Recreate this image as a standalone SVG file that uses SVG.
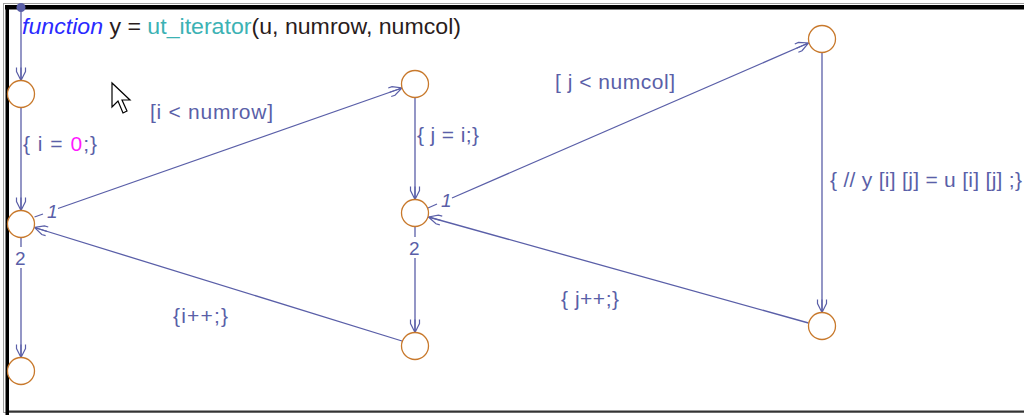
<svg xmlns="http://www.w3.org/2000/svg" width="1024" height="415" viewBox="0 0 1024 415">
<defs>
<style>
.j{fill:#fff;stroke:#c8792c;stroke-width:1.3}
.c{fill:none;stroke:#5a5fa8;stroke-width:1.3}
.a{marker-end:url(#arr)}
.t{font-family:"Liberation Sans",Arial,sans-serif;font-size:21px;fill:#5a5fa8}
.n{font-family:"Liberation Sans",Arial,sans-serif;font-size:19px;fill:#5a5fa8}
</style>
<marker id="arr" markerWidth="16" markerHeight="12" refX="13" refY="0" viewBox="-1 -6 16 12" orient="auto" markerUnits="userSpaceOnUse">
<path d="M0,-4.5 L4,-4.5 L13,0 L4,4.5 L0,4.5 M0,0 L13,0" fill="none" stroke="#5a5fa8" stroke-width="1.2"/>
</marker>
</defs>
<rect x="0" y="0" width="1024" height="415" fill="#fff"/>
<g id="frame">
<rect x="3.5" y="3.5" width="1030" height="409" fill="none" stroke="#a0a0a0" stroke-width="1"/>
<rect x="5" y="5" width="1019" height="4.5" fill="#000"/>
<rect x="5.5" y="5" width="3.5" height="410" fill="#000"/>
<rect x="9" y="410.5" width="1015" height="2" fill="#333"/>
</g>
<g id="title">
<text x="22" y="34" font-family="'Liberation Sans',Arial,sans-serif" font-size="22" fill="#2a1c1c" textLength="439" lengthAdjust="spacingAndGlyphs"><tspan fill="#2a2aff" font-style="italic">function</tspan> y = <tspan fill="#3cb2b4">ut_iterator</tspan>(u, numrow, numcol)</text>
</g>
<g id="cursor">
<polygon points="112,83 112,107 118,101 123,113 127,111 122,100 130,100" fill="#fff" stroke="#000" stroke-width="1.2" stroke-linejoin="miter"/>
</g>
<g id="connectors">
<circle cx="21" cy="7.5" r="4.5" fill="#5a5fa8"/>
<line class="c a" x1="21" y1="8" x2="21" y2="80.5"/>
<line class="c a" x1="21" y1="108" x2="21" y2="210.5"/>
<line class="c" x1="34.5" y1="217" x2="43" y2="214"/>
<line class="c a" x1="58" y1="208.5" x2="402" y2="88"/>
<line class="c" x1="21" y1="238" x2="21" y2="247"/>
<line class="c a" x1="21" y1="268" x2="21" y2="357.5"/>
<line class="c a" x1="402" y1="341" x2="34.5" y2="227.5"/>
<line class="c a" x1="415" y1="98" x2="415" y2="199.5"/>
<line class="c" x1="428" y1="208" x2="437" y2="204"/>
<line class="c a" x1="452" y1="198" x2="808.5" y2="43"/>
<line class="c" x1="415" y1="227" x2="415" y2="237"/>
<line class="c a" x1="415" y1="258" x2="415" y2="332.5"/>
<line class="c a" x1="822" y1="53" x2="822" y2="312.5"/>
<line class="c a" x1="808.5" y1="323" x2="428.5" y2="217"/>
<text class="n" x="47" y="218" font-style="italic">1</text>
<text class="n" x="15" y="265">2</text>
<text class="n" x="441" y="207" font-style="italic">1</text>
<text class="n" x="409" y="255">2</text>
<text class="t" x="23" y="151" textLength="74">{ i = <tspan fill="#ff1aff">0</tspan>;}</text>
<text class="t" x="150" y="119" textLength="123">[i &lt; numrow]</text>
<text class="t" x="173" y="323" textLength="55">{i++;}</text>
<text class="t" x="417" y="142" textLength="62">{ j = i;}</text>
<text class="t" x="555" y="89" textLength="120">[ j &lt; numcol]</text>
<text class="t" x="561" y="306" textLength="58">{ j++;}</text>
<text class="t" x="830" y="187" textLength="192">{ // y [i] [j] = u [i] [j] ;}</text>
</g>
<g id="J0"><circle class="j" cx="21" cy="94" r="13.5"/></g>
<g id="J1"><circle class="j" cx="21" cy="224" r="13.5"/></g>
<g id="J2"><circle class="j" cx="21" cy="371" r="13.5"/></g>
<g id="J3"><circle class="j" cx="415" cy="84" r="13.5"/></g>
<g id="J4"><circle class="j" cx="415" cy="213" r="13.5"/></g>
<g id="J5"><circle class="j" cx="415" cy="346" r="13.5"/></g>
<g id="J6"><circle class="j" cx="822" cy="39" r="13.5"/></g>
<g id="J7"><circle class="j" cx="822" cy="326" r="13.5"/></g>
</svg>
